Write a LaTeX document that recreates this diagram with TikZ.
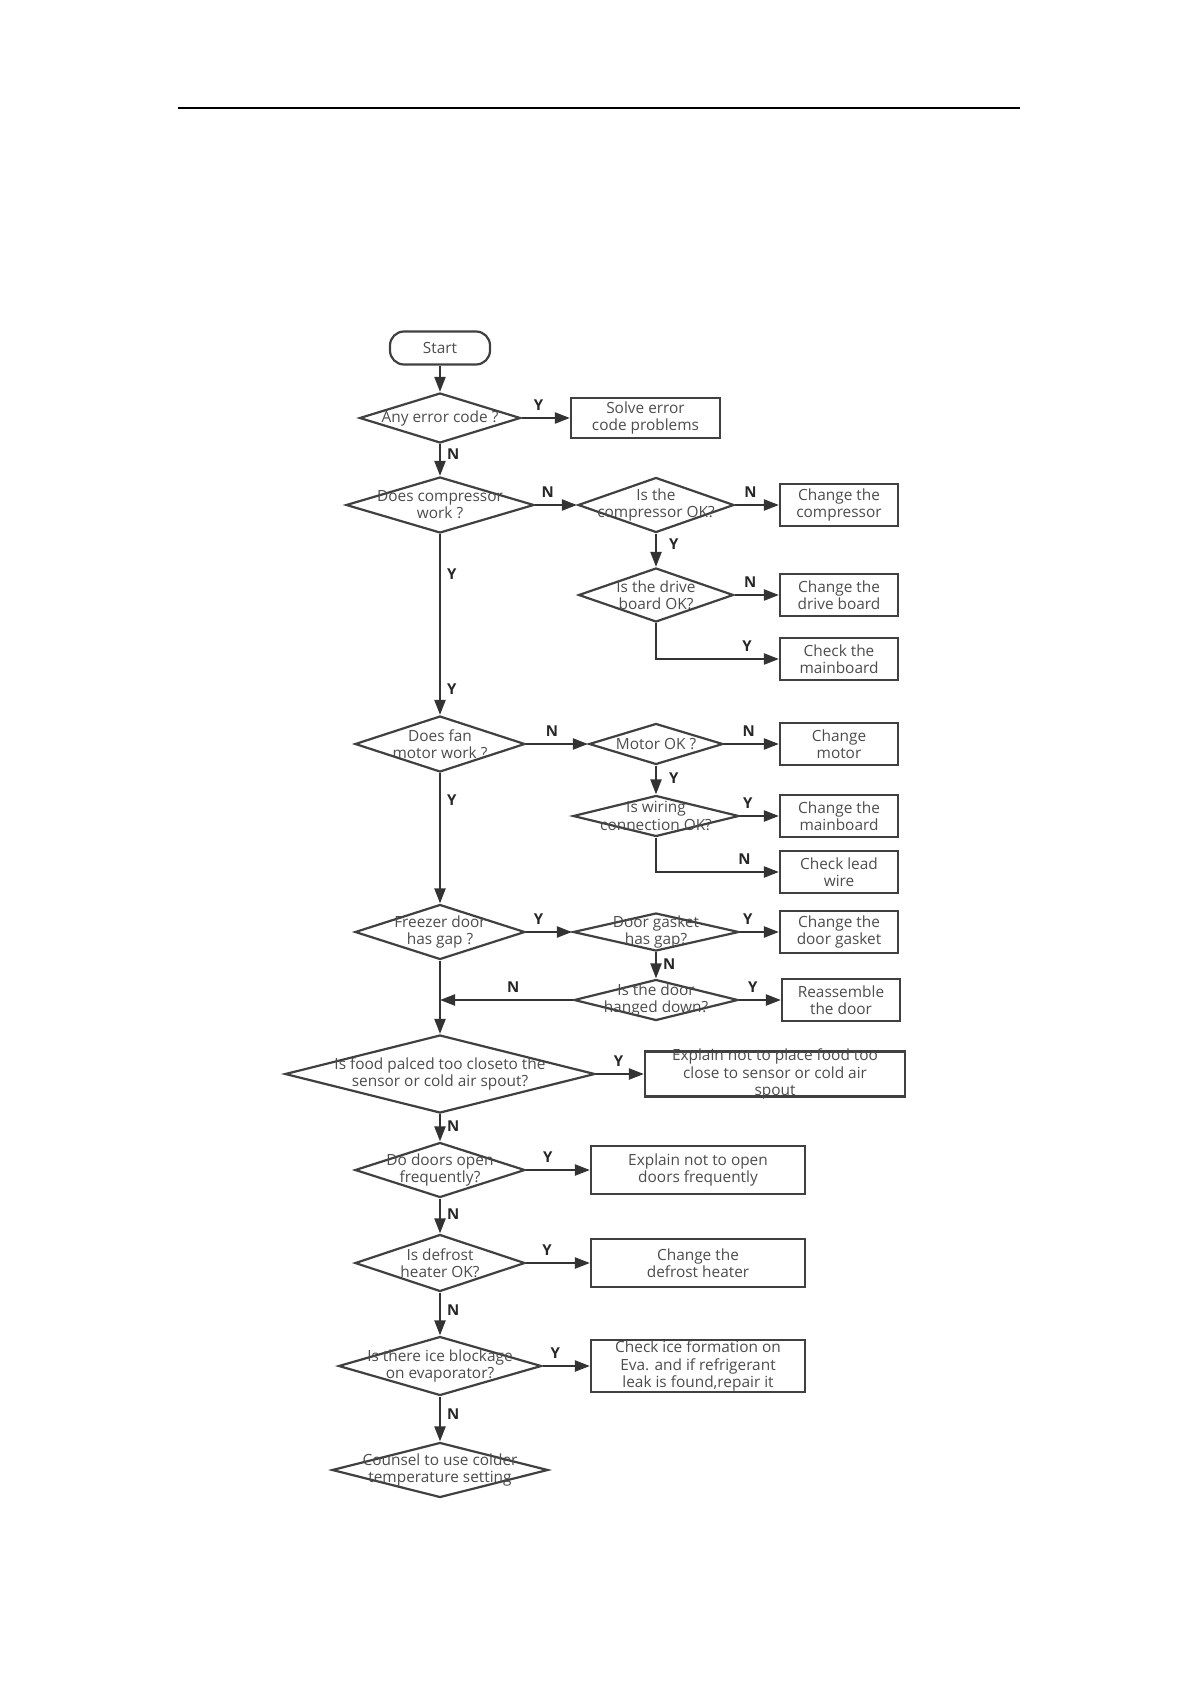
\documentclass[tikz,border=0pt]{standalone}
\usepackage{fontspec}
\setmainfont{Open Sans}
\usetikzlibrary{shapes.geometric, arrows.meta, positioning}

\begin{document}
\begin{tikzpicture}[x=1pt, y=1pt,
          every node/.style = {font=\fontsize{7.7}{8.6}\selectfont, text=black!70, align=center},
          startbox/.style = {draw=black!75, line width=1.1pt, rounded corners=7pt, minimum width=50pt, minimum height=16.5pt, inner sep=0pt},
          decision/.style = {draw=black!75, line width=1.1pt, diamond, inner sep=0pt},
          box/.style = {draw=black!75, line width=1.1pt, minimum width=59pt, minimum height=21pt, inner sep=1pt},
          flow/.style = {draw=black!80, line width=1.1pt, -{Triangle[length=7.5pt, width=5.5pt]}},
          yn/.style = {font=\fontsize{7.5}{8}\selectfont\bfseries, text=black!85, inner sep=3pt}]
        \useasboundingbox (0,0) rectangle (595,-842);
        \draw[line width=.8pt] (89,-54) -- (510,-54);
        % main column
        \node[startbox] (start) at (220,-174) {Start};
        \node[decision, node distance=35pt, below of=start, minimum width=80.5pt, minimum height=25pt, label=center:Any error code ?] (err) {};
        \node[decision, node distance=43.5pt, below of=err, minimum width=94pt, minimum height=28pt, label=center:Does compressor\\work ?] (comp) {};
        \node[decision, node distance=119.5pt, below of=comp, minimum width=85pt, minimum height=28pt, label=center:Does fan\\motor work ?] (fan) {};
        \node[decision, node distance=94pt, below of=fan, minimum width=85pt, minimum height=27.5pt, label=center:Freezer door\\has gap ?] (door) {};
        \node[decision, node distance=71pt, below of=door, minimum width=155pt, minimum height=39pt, label=center:Is food palced too closeto the\\sensor or cold air spout?] (food) {};
        \node[decision, node distance=48pt, below of=food, minimum width=85pt, minimum height=27.5pt, label=center:Do doors open\\frequently?] (open) {};
        \node[decision, node distance=46.5pt, below of=open, minimum width=85pt, minimum height=28.5pt, label=center:Is defrost\\heater OK?] (defrost) {};
        \node[decision, node distance=51.5pt, below of=defrost, minimum width=101.5pt, minimum height=29.5pt, label=center:Is there ice blockage\\on evaporator?] (ice) {};
        \node[decision, node distance=52pt, below of=ice, minimum width=108pt, minimum height=27.5pt, label=center:Counsel to use colder\\temperature setting] (counsel) {};
        % second column
        \node[decision, node distance=108pt, right of=comp, minimum width=78pt, minimum height=27.5pt, label=center:Is the\\compressor OK?] (cok) {};
        \node[decision, node distance=45pt, below of=cok, minimum width=77.5pt, minimum height=27pt, label=center:Is the drive\\board OK?] (drive) {};
        \node[decision, node distance=108pt, right of=fan, minimum width=67pt, minimum height=20.5pt, label=center:Motor OK ?] (mok) {};
        \node[decision, node distance=36pt, below of=mok, minimum width=83pt, minimum height=20.5pt, label=center:Is wiring\\connection OK?] (wire) {};
        \node[decision, node distance=108pt, right of=door, minimum width=83pt, minimum height=19pt, label=center:Door gasket\\has gap?] (gasket) {};
        \node[decision, node distance=34pt, below of=gasket, minimum width=82pt, minimum height=20.5pt, label=center:Is the door\\hanged down?] (hang) {};
        % boxes
        \node[box, node distance=102.75pt, right of=err, minimum width=74.5pt, minimum height=20pt] (solve) {Solve error\\code problems};
        \node[box, node distance=91.5pt, right of=cok] (c1) {Change the\\compressor};
        \node[box, node distance=91.5pt, right of=drive] (c2) {Change the\\drive board};
        \node[box, node distance=32pt, below of=c2] (c3) {Check the\\mainboard};
        \node[box, node distance=91.5pt, right of=mok] (m1) {Change\\motor};
        \node[box, node distance=91.5pt, right of=wire] (m2) {Change the\\mainboard};
        \node[box, node distance=28pt, below of=m2] (m3) {Check lead\\wire};
        \node[box, node distance=91.5pt, right of=gasket] (g1) {Change the\\door gasket};
        \node[box, node distance=92.5pt, right of=hang] (g2) {Reassemble\\the door};
        \node[box, node distance=167.5pt, right of=food, minimum width=130pt, minimum height=22.5pt, label=center:Explain not to place food too\\close to sensor or cold air\\spout] (foodbox) {};
        \node[box, node distance=129pt, right of=open, minimum width=107pt, minimum height=24pt] (openbox) {Explain not to open\\doors frequently};
        \node[box, node distance=129pt, right of=defrost, minimum width=107pt, minimum height=24pt] (defrostbox) {Change the\\defrost heater};
        \node[box, node distance=129pt, right of=ice, minimum width=107pt, minimum height=26pt, inner sep=0pt] (icebox) {Check ice formation on\\Eva. and if refrigerant\\leak is found,repair it};
        % connectors
        \draw[flow] (start) -- (err);
        \foreach \a/\b/\p in {err/comp/.32, food/open/.45, open/defrost/.46, defrost/ice/.4, ice/counsel/.4}
                 {
                   \draw[flow] (\a.south) -- node[yn, pos=\p, right] {N} (\b.north);
                 }
        \foreach \a/\b/\p in {err/solve/.35, food/foodbox/.47, open/openbox/.34, defrost/defrostbox/.33, ice/icebox/.27}
                 {
                   \draw[flow] (\a.east) -- node[yn, pos=\p, above] {Y} (\b.west);
                 }
        \draw[flow] (comp.east) -- node[yn, pos=.3, above] {N} (cok.west);
        \draw[flow] (cok.east) -- node[yn, pos=.35, above] {N} (c1.west);
        \draw[flow] (cok.south) -- node[yn, pos=.33, right, xshift=3pt] {Y} (drive.north);
        \draw[flow] (drive.east) -- node[yn, pos=.35, above] {N} (c2.west);
        \draw[flow] (drive.south) |- node[yn, pos=.87, above] {Y} (c3.west);
        \draw[flow] (comp.south) -- node[yn, pos=.22, right] {Y} node[yn, pos=.86, right] {Y} (fan.north);
        \draw[flow] (fan.east) -- node[yn, pos=.42, above] {N} (mok.west);
        \draw[flow] (mok.east) -- node[yn, pos=.45, above] {N} (m1.west);
        \draw[flow] (mok.south) -- node[yn, pos=.42, right, xshift=3pt] {Y} (wire.north);
        \draw[flow] (wire.east) -- node[yn, pos=.2, above] {Y} (m2.west);
        \draw[flow] (wire.south) |- node[yn, pos=.86, above] {N} (m3.west);
        \draw[flow] (fan.south) -- node[yn, pos=.21, right] {Y} (door.north);
        \draw[flow] (door.east) -- node[yn, pos=.27, above] {Y} (gasket.west);
        \draw[flow] (gasket.east) -- node[yn, pos=.2, above] {Y} (g1.west);
        \draw[flow] (gasket.south) -- node[yn, pos=.46, right] {N} (hang.north);
        \draw[flow] (hang.east) -- node[yn, pos=.33, above] {Y} (g2.west);
        \draw[flow] (hang.west) -- node[yn, pos=.45, above] {N} (hang.west -| door.south);
        \draw[flow] (door.south) -- (food.north);
      \end{tikzpicture}
\end{document}
